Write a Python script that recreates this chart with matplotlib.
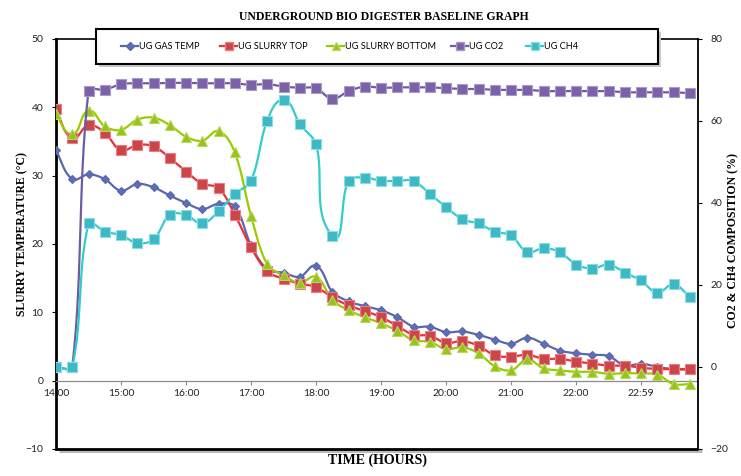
import numpy as np
import matplotlib
matplotlib.use("Agg")
import matplotlib.pyplot as plt
from matplotlib.lines import Line2D
from matplotlib.patches import Rectangle

# ---------------- data ----------------
tick_positions = [0, 4, 8, 12, 16, 20, 24, 28, 32, 36]
tick_labels = ["14:00", "15:00", "16:00", "17:00", "18:00", "19:00",
               "20:00", "21:00", "22:00", "22:59"]

gas_temp = [33.7, 29.5, 30.2, 29.5, 27.8, 28.8, 28.3, 27.1, 26.0, 25.1,
            25.9, 25.5, 19.8, 16.3, 15.8, 15.2, 16.8, 13.0, 11.6, 10.9,
            10.3, 9.3, 7.9, 7.9, 7.1, 7.2, 6.7, 6.0, 5.4, 6.3,
            5.4, 4.4, 4.0, 3.8, 3.6, 2.2, 2.5, 2.0, 1.7, 1.6]
slurry_top = [39.7, 35.5, 37.4, 36.3, 33.7, 34.5, 34.3, 32.6, 30.6, 28.8,
              28.2, 24.3, 19.5, 16.0, 14.9, 14.2, 13.7, 12.2, 11.0, 10.2,
              9.3, 8.0, 6.7, 6.6, 5.5, 5.8, 5.1, 3.7, 3.5, 3.8,
              3.2, 3.2, 2.8, 2.5, 2.2, 2.2, 1.9, 1.7, 1.7, 1.7]
slurry_bottom = [39.0, 36.1, 39.5, 37.2, 36.7, 38.2, 38.5, 37.4, 35.7, 35.1,
                 36.5, 33.4, 24.1, 17.0, 15.4, 14.3, 15.2, 11.8, 10.3, 9.3,
                 8.4, 7.3, 5.9, 5.7, 4.6, 4.9, 4.0, 2.1, 1.5, 3.1,
                 1.8, 1.5, 1.3, 1.3, 1.0, 1.1, 1.05, 0.9, -0.5, -0.5]
co2 = [0, 0, 67.3, 67.6, 69.0, 69.2, 69.2, 69.3, 69.3, 69.2,
       69.2, 69.2, 68.8, 69.0, 68.4, 68.1, 68.0, 65.4, 67.3, 68.4,
       68.1, 68.2, 68.2, 68.2, 68.0, 67.8, 67.8, 67.6, 67.6, 67.6,
       67.3, 67.3, 67.3, 67.3, 67.3, 67.0, 67.0, 67.0, 67.0, 66.8]
ch4 = [0, 0, 35.0, 33.0, 32.2, 30.2, 31.1, 37.1, 37.1, 35.0,
       38.0, 42.2, 45.4, 60.1, 65.1, 59.2, 54.3, 32.0, 45.4, 46.2,
       45.4, 45.4, 45.4, 42.2, 39.0, 36.0, 35.0, 33.0, 32.1, 28.0,
       29.0, 28.0, 25.0, 24.0, 25.0, 23.0, 21.1, 18.1, 20.2, 17.0]

labels = ["UG GAS TEMP", "UG SLURRY TOP", "UG SLURRY BOTTOM", "UG CO2", "UG CH4"]


def smooth(y, xs, ys, n=16):
    """Excel-like smoothed line: cubic Bezier with tangent along (p[i+1]-p[i-1])
    and handle length proportional to the segment length (in screen units)."""
    pts = np.column_stack([np.arange(len(y), dtype=float) * xs, np.asarray(y, float) * ys])
    N = len(pts)
    out = [pts[0]]
    t = np.linspace(0, 1, n)[1:, None]

    def unit(v):
        nv = np.hypot(*v)
        return v / nv if nv > 0 else v

    for i in range(N - 1):
        p0 = pts[max(i - 1, 0)]
        p1 = pts[i]
        p2 = pts[i + 1]
        p3 = pts[min(i + 2, N - 1)]
        seglen = np.hypot(*(p2 - p1))
        c1 = p1 + unit(p2 - p0) * seglen / 3.0
        c2 = p2 - unit(p3 - p1) * seglen / 3.0
        seg = ((1 - t) ** 3) * p1 + 3 * ((1 - t) ** 2) * t * c1 + 3 * (1 - t) * t ** 2 * c2 + t ** 3 * p2
        out.extend(seg)
    out = np.array(out)
    return out[:, 0] / xs, out[:, 1] / ys


W, H = 741, 476
fig = plt.figure(figsize=(W / 100, H / 100), dpi=100)
fig.patch.set_facecolor("white")

L, R, T, B = 56, 698, 39, 449
ax = fig.add_axes([L / W, 1 - B / H, (R - L) / W, (B - T) / H])
ax2 = ax.twinx()

serif = ["Liberation Serif", "DejaVu Serif"]

styles = [
    dict(color="#5B67AC", marker="D", ms=4.5, mfc="#5B6FB5", mec="#5B67AC"),
    dict(color="#E8313A", marker="s", ms=6.5, mfc="#C9474A", mec="#F07A80"),
    dict(color="#99CC00", marker="^", ms=6.5, mfc="#99C21E", mec="#B5D95A"),
    dict(color="#6C5DA3", marker="s", ms=6.5, mfc="#7B61A8", mec="#A99ACB"),
    dict(color="#33CCCC", marker="s", ms=6.5, mfc="#3DB8C4", mec="#8ADDE3"),
]

XMAX = 39.5
xs = (R - L) / XMAX
ys_left = (B - T) / 60.0
ys_right = (B - T) / 100.0

x_idx = np.arange(len(gas_temp))
for series, st in [(gas_temp, styles[0]), (slurry_top, styles[1]), (slurry_bottom, styles[2])]:
    sx, sy = smooth(series, xs, ys_left)
    ax.plot(sx, sy, color=st["color"], lw=1.6, zorder=3)
    ax.plot(x_idx, series, ls="none", marker=st["marker"], ms=st["ms"],
            mfc=st["mfc"], mec=st["mec"], mew=0.8, zorder=4)

for series, st in [(co2, styles[3]), (ch4, styles[4])]:
    sx, sy = smooth(series, xs, ys_right)
    ax2.plot(sx, sy, color=st["color"], lw=1.6, zorder=3)
    ax2.plot(x_idx, series, ls="none", marker=st["marker"], ms=st["ms"],
             mfc=st["mfc"], mec=st["mec"], mew=0.8, zorder=4)

ax.set_xlim(0, XMAX)
ax.set_ylim(-10, 50)
ax.set_yticks(np.arange(-10, 51, 10))
ax2.set_ylim(-20, 80)
ax2.set_yticks(np.arange(-20, 81, 20))

ax.set_xticks(tick_positions)
ax.set_xticklabels(tick_labels)

# spines
ax.spines["bottom"].set_position(("data", 0))
ax.spines["bottom"].set_color("#8C8C8C")
ax.spines["bottom"].set_linewidth(0.9)
ax.spines["left"].set_linewidth(2.0)
ax.spines["left"].set_color("black")
ax.spines["top"].set_linewidth(1.2)
ax.spines["top"].set_color("black")
ax.spines["right"].set_visible(False)
for s in ["left", "top", "bottom"]:
    ax2.spines[s].set_visible(False)
ax2.spines["right"].set_linewidth(1.3)
ax2.spines["right"].set_color("black")

# bottom frame with shadow
ax.plot([0.004, 1.006], [-0.006, -0.006], transform=ax.transAxes, color="#BBBBBB",
        lw=2.2, clip_on=False, zorder=1, solid_capstyle="butt")
ax.plot([0, 1], [0, 0], transform=ax.transAxes, color="black", lw=2.0,
        clip_on=False, zorder=5, solid_capstyle="butt")

ax.tick_params(axis="x", direction="out", length=3, color="#8C8C8C", pad=3,
               labelsize=7.5, labelcolor="#222222")
ax.tick_params(axis="y", direction="out", length=3, pad=6, labelsize=7.5,
               labelcolor="#222222")
ax2.tick_params(axis="y", direction="out", length=3, pad=6, labelsize=7.5,
                labelcolor="#222222")
for lab in ax.get_xticklabels() + ax.get_yticklabels() + ax2.get_yticklabels():
    lab.set_fontfamily("Lato")

# titles and axis labels
fig.text(384 / W, 1 - 17 / H, "UNDERGROUND BIO DIGESTER BASELINE GRAPH",
         ha="center", va="center", fontsize=8.5, fontweight="bold", family=serif)
fig.text(377 / W, 1 - 460 / H, "TIME (HOURS)", ha="center", va="center",
         fontsize=10, fontweight="bold", family=serif)
fig.text(22 / W, 1 - 234 / H, "SLURRY TEMPERATURE (°C)", ha="center", va="center",
         rotation=90, fontsize=8.5, fontweight="bold", family=serif)
fig.text(733 / W, 1 - 240 / H, "CO2 & CH4 COMPOSITION (%)", ha="center", va="center",
         rotation=90, fontsize=8.5, fontweight="bold", family=serif)

# legend box with shadow
lx0, lx1, ly0, ly1 = 96, 658, 29, 64
shadow = Rectangle(((lx0 + 3) / W, 1 - (ly1 + 3) / H), (lx1 - lx0) / W, (ly1 - ly0) / H,
                   transform=fig.transFigure, facecolor="#C8C8C8", edgecolor="none",
                   zorder=6)
box = Rectangle((lx0 / W, 1 - ly1 / H), (lx1 - lx0) / W, (ly1 - ly0) / H,
                transform=fig.transFigure, facecolor="white", edgecolor="black",
                lw=1.5, zorder=7)
fig.add_artist(shadow)
fig.add_artist(box)

entry_x = [121, 220, 327, 451, 526]
for st, lab, ex in zip(styles, labels, entry_x):
    h = Line2D([], [], color=st["color"], lw=1.6, marker=st["marker"],
               ms=st["ms"] * 0.8, mfc=st["mfc"], mec=st["mec"])
    lg = fig.legend([h], [lab], loc="center left", bbox_to_anchor=(ex / W, 1 - 46.5 / H),
                    frameon=False, handlelength=1.9, handletextpad=0.1,
                    borderpad=0, borderaxespad=0,
                    prop=dict(family="Lato", size=6.6))
    lg.set_zorder(8)

fig.savefig("out.png", dpi=100, facecolor="white")
